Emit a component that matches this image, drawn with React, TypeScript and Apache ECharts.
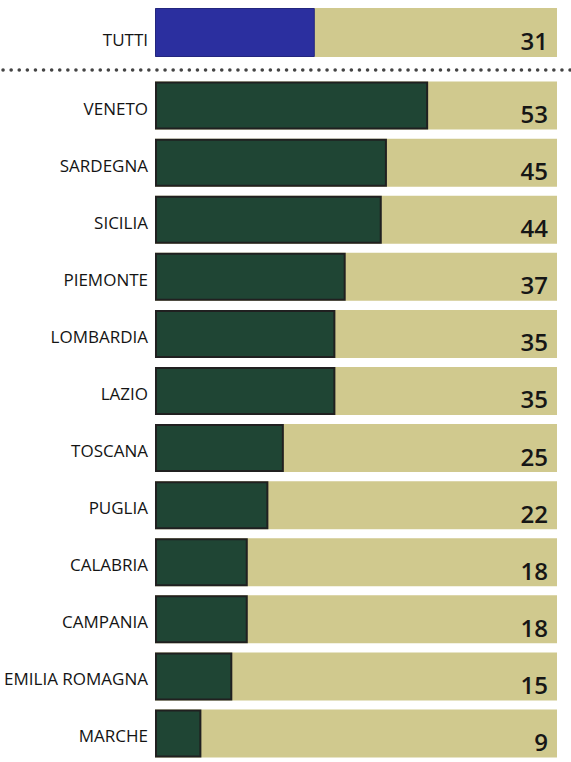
import React, { useEffect, useRef } from "react";
import * as echarts from "echarts";

const totalLabel = ["TUTTI"];
const totalValue = [31];
const regions = [
  "VENETO",
  "SARDEGNA",
  "SICILIA",
  "PIEMONTE",
  "LOMBARDIA",
  "LAZIO",
  "TOSCANA",
  "PUGLIA",
  "CALABRIA",
  "CAMPANIA",
  "EMILIA ROMAGNA",
  "MARCHE",
];
const regionValues = [53, 45, 44, 37, 35, 35, 25, 22, 18, 18, 15, 9];
const scaleMax = 78;

const labelFont = "'Open Sans', 'Noto Sans', sans-serif";
const numFont = "'Open Sans', 'Noto Sans', sans-serif";
const trackColor = "#d0c98e";

export default function App() {
  const ref = useRef<HTMLDivElement>(null);
  useEffect(() => {
    document.body.style.margin = "0";
    const chart = echarts.init(ref.current!, undefined, { renderer: "svg" });
    const valueLabel = (vals: number[]) => ({
      show: true,
      position: "insideRight" as const,
      offset: [-4, 8],
      fontFamily: numFont,
      fontSize: 24,
      fontWeight: 600 as any,
      color: "#161616",
      formatter: (p: any) => String(vals[p.dataIndex]),
    });
    chart.setOption({
      animation: false,
      backgroundColor: "#ffffff",
      grid: [
        { left: 155, right: 14, top: 8, height: 49 },
        { left: 155, right: 14, top: 77, height: 700 },
      ],
      xAxis: [0, 1].map((i) => ({
        type: "value",
        gridIndex: i,
        min: 0,
        max: scaleMax,
        show: false,
      })),
      yAxis: [
        { data: totalLabel, gridIndex: 0, pad: 14 },
        { data: regions, gridIndex: 1, pad: 5 },
      ].map((a) => ({
        type: "category",
        gridIndex: a.gridIndex,
        data: a.data,
        inverse: true,
        axisLine: { show: false },
        axisTick: { show: false },
        splitLine: { show: false },
        axisLabel: {
          margin: 7,
          formatter: "{a|{value}}",
          rich: {
            a: {
              fontFamily: labelFont,
              fontSize: 17,
              fontWeight: 500,
              color: "#141414",
              padding: [a.pad, 0, 0, 0],
            },
          },
        },
      })),
      series: [
        {
          type: "bar",
          xAxisIndex: 0,
          yAxisIndex: 0,
          data: totalValue.map(() => scaleMax),
          barWidth: 49,
          itemStyle: { color: trackColor },
          label: valueLabel(totalValue),
          silent: true,
        },
        {
          type: "bar",
          xAxisIndex: 0,
          yAxisIndex: 0,
          data: totalValue,
          barWidth: 49,
          barGap: "-100%",
          itemStyle: { color: "#2b2f9f", borderColor: "#23267e", borderWidth: 1 },
        },
        {
          type: "bar",
          xAxisIndex: 1,
          yAxisIndex: 1,
          data: regionValues.map(() => scaleMax),
          barWidth: 48,
          itemStyle: { color: trackColor },
          label: valueLabel(regionValues),
          silent: true,
        },
        {
          type: "bar",
          xAxisIndex: 1,
          yAxisIndex: 1,
          data: regionValues,
          barWidth: 48,
          barGap: "-100%",
          itemStyle: { color: "#1f4534", borderColor: "#202020", borderWidth: 2 },
        },
      ],
      graphic: [
        {
          type: "line",
          shape: { x1: 3, y1: 70, x2: 571, y2: 70 },
          style: { stroke: "#444444", lineWidth: 3.5, lineDash: [0.1, 8], lineCap: "round" },
        },
      ],
    });
    return () => chart.dispose();
  }, []);
  return <div ref={ref} style={{ width: 571, height: 762 }} />;
}
